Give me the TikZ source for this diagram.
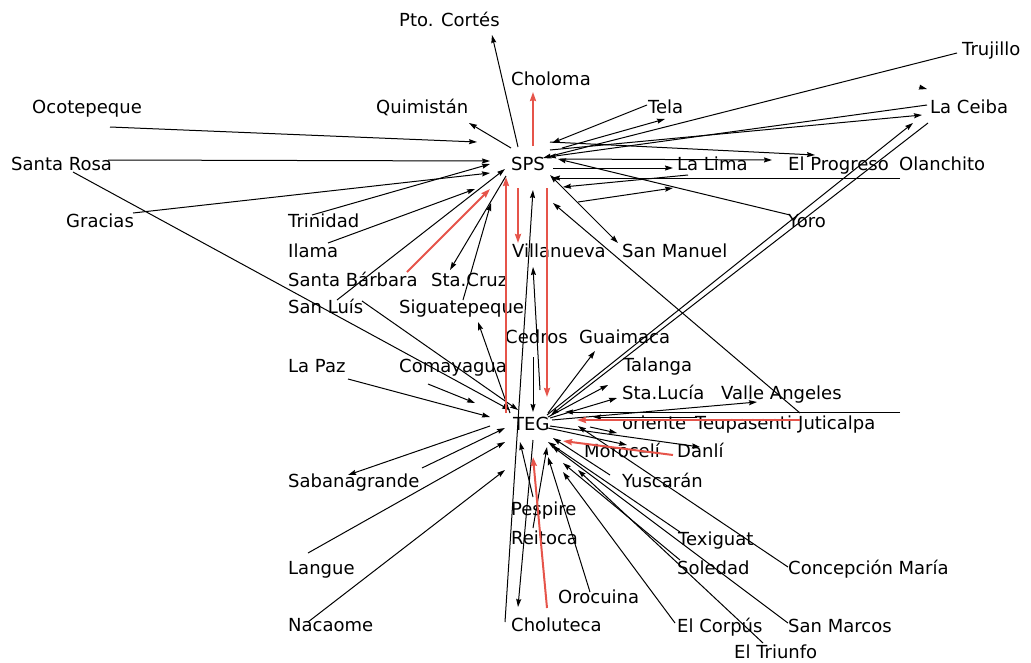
\documentclass[tikz,border=0pt]{standalone}
\usepackage{fontspec}
\setmainfont{DejaVu Sans}
\usetikzlibrary{arrows.meta}
\definecolor{rd}{RGB}{230,84,74}
\tikzset{
 lbl/.style={anchor=base west,inner sep=0pt,font=\fontsize{18}{21}\selectfont},
 ar/.style={-{Stealth[length=8pt,width=5pt,inset=1pt]},line width=1pt,black},
 da/.style={{Stealth[length=8pt,width=5pt,inset=1pt]}-{Stealth[length=8pt,width=5pt,inset=1pt]},line width=1pt,black},
 pl/.style={line width=1pt,black},
 ra/.style={-{Stealth[length=9pt,width=6pt,inset=1pt]},line width=2pt,rd},
}
\newcommand\Ln[4]{\coordinate (#2-s) at (#3); \coordinate (#2-e) at (#4); \draw[#1] (#2-s) -- (#2-e);}
\begin{document}
\begin{tikzpicture}[x=1pt,y=-1pt]
\useasboundingbox (0,0) rectangle (1031,662);
% labels
\node[lbl] (ptc) at (399,26) {Pto. Cortés};
\node[lbl] (chm) at (511,85) {Choloma};
\node[lbl] (qui) at (376,113) {Quimistán};
\node[lbl] (oco) at (32,113) {Ocotepeque};
\node[lbl] (tel) at (648,113) {Tela};
\node[lbl] (tru) at (962,55) {Trujillo};
\node[lbl] (lac) at (930,113) {La Ceiba};
\node[lbl] (sro) at (11,170) {Santa Rosa};
\node[lbl] (sps) at (511,170) {SPS};
\node[lbl] (lli) at (677,170) {La Lima};
\node[lbl] (epr) at (788,170) {El Progreso};
\node[lbl] (ola) at (899,170) {Olanchito};
\node[lbl] (gra) at (66,227) {Gracias};
\node[lbl] (tri) at (288,227) {Trinidad};
\node[lbl] (yor) at (788,227) {Yoro};
\node[lbl] (ila) at (288,257) {Ilama};
\node[lbl] (vil) at (512,257) {Villanueva};
\node[lbl] (sma) at (622,257) {San Manuel};
\node[lbl] (sba) at (288,286) {Santa Bárbara};
\node[lbl] (scr) at (431,286) {Sta.Cruz};
\node[lbl] (slu) at (288,313) {San Luís};
\node[lbl] (sig) at (399,313) {Siguatepeque};
\node[lbl] (ced) at (505,343) {Cedros};
\node[lbl] (gua) at (579,343) {Guaimaca};
\node[lbl] (lpz) at (288,372) {La Paz};
\node[lbl] (com) at (399,372) {Comayagua};
\node[lbl] (tal) at (623,371) {Talanga};
\node[lbl] (slc) at (622,399) {Sta.Lucía};
\node[lbl] (vaa) at (721,399) {Valle Angeles};
\node[lbl] (teg) at (513,430) {TEG};
\node[lbl] (ori) at (622,429) {oriente};
\node[lbl] (teu) at (695,429) {Teupasenti};
\node[lbl] (jut) at (798,429) {Juticalpa};
\node[lbl] (mor) at (584,457) {Morocelí};
\node[lbl] (dan) at (677,457) {Danlí};
\node[lbl] (yus) at (622,487) {Yuscarán};
\node[lbl] (sab) at (288,487) {Sabanagrande};
\node[lbl] (pes) at (511,515) {Pespire};
\node[lbl] (rei) at (511,544) {Reitoca};
\node[lbl] (tex) at (678,545) {Texiguat};
\node[lbl] (lan) at (288,574) {Langue};
\node[lbl] (sol) at (677,574) {Soledad};
\node[lbl] (cma) at (788,574) {Concepción María};
\node[lbl] (oro) at (558,603) {Orocuina};
\node[lbl] (nac) at (288,631) {Nacaome};
\node[lbl] (cho) at (511,631) {Choluteca};
\node[lbl] (eco) at (677,632) {El Corpús};
\node[lbl] (smr) at (788,632) {San Marcos};
\node[lbl] (etr) at (734,658) {El Triunfo};
% SPS left / top
\Ln{ar}{l1}{518,147}{492,35}
\Ln{ar}{l2}{511,148}{469,123}
\Ln{ar}{l3}{110,127}{477,142}
\Ln{ar}{l4}{108,160}{490,161}
\Ln{ar}{l5}{133,213}{490,173}
\Ln{ar}{l6}{312,215}{490,164}
\Ln{ar}{l7}{328,243}{475,189}
\Ln{ar}{l8}{337,300}{505,169}
\Ln{ar}{l9}{506,176}{450,270}
\Ln{ar}{l10}{463,300}{491,203}
\Ln{ar}{l11}{505,622}{533,190}
\Ln{ar}{l12}{540,390}{533,267}
\Ln{ar}{l13}{533,357}{533,412}
% TEG left
\Ln{ar}{t1}{73,172}{510,410}
\Ln{ar}{t2}{362,301}{518,410}
\Ln{ar}{t3}{348,379}{490,417}
\Ln{ar}{t4}{428,384}{475,403}
\Ln{ar}{t5}{510,413}{478,322}
\Ln{ar}{t6}{490,426}{348,475}
\Ln{ar}{t7}{422,468}{505,428}
\Ln{ar}{t8}{308,553}{505,442}
\Ln{ar}{t9}{308,622}{505,470}
% TEG bottom
\Ln{ar}{b1}{533,440}{518,607}
\Ln{ar}{b2}{533,497}{520,442}
\Ln{ar}{b3}{533,528}{547,447}
\Ln{ar}{b4}{590,592}{548,457}
% TEG right
\Ln{ar}{r1}{548,413}{595,351}
\Ln{ar}{r2}{547,415}{913,123}
\Ln{ar}{r3}{928,123}{551,415}
\Ln{ar}{r4}{548,417}{608,385}
\Ln{ar}{r5}{550,418}{617,398}
\Ln{ar}{r6}{552,420}{757,402}
\Ln{ar}{r7}{900,412}{565,412}
\Ln{ar}{r8}{697,417}{593,417}
\Ln{ar}{r9}{590,427}{617,433}
\Ln{ar}{r10}{550,426}{700,447}
\Ln{ar}{r11}{548,428}{627,445}
\Ln{ar}{r12}{788,567}{578,426}
\Ln{ar}{r13}{610,475}{553,438}
\Ln{ar}{r14}{680,532}{548,442}
\Ln{ar}{r15}{680,560}{563,463}
\Ln{ar}{r16}{675,623}{563,472}
\Ln{ar}{r17}{763,643}{578,470}
\Ln{ar}{r18}{788,623}{552,446}
% SPS right
\Ln{ar}{s1}{647,105}{552,143}
\Ln{ar}{s2}{562,148}{665,119}
\Ln{ar}{s3}{957,53}{543,158}
\Ln{ar}{s4}{927,105}{548,157}
\Ln{ar}{s5}{550,150}{922,115}
\Ln{ar}{s6}{550,142}{815,155}
\Ln{ar}{s7}{560,159}{772,160}
\Ln{ar}{s8}{790,215}{558,159}
\Ln{ar}{s9}{553,168}{673,168}
\Ln{ar}{s10}{688,175}{563,187}
\Ln{ar}{s11}{578,202}{673,188}
\Ln{ar}{s12}{900,178}{552,178}
\Ln{da}{s13}{550,175}{618,243}
\Ln{ar}{s14}{800,413}{553,203}
\Ln{ar}{s15}{919,87}{927,89}
% red
\Ln{ra}{q1}{533,146}{533,92}
\Ln{ra}{q2}{407,272}{490,189}
\Ln{ra}{q3}{518,188}{518,243}
\Ln{ra}{q4}{547,188}{547,397}
\Ln{ra}{q5}{506,413}{506,177}
\Ln{ra}{q6}{800,420}{577,420}
\Ln{ra}{q7}{673,455}{563,441}
\Ln{ra}{q8}{547,608}{533,457}
\end{tikzpicture}
\end{document}
